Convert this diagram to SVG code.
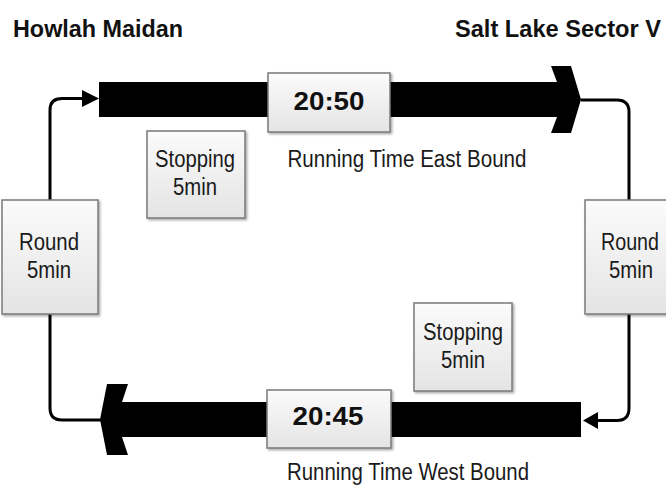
<svg xmlns="http://www.w3.org/2000/svg" width="666" height="486" viewBox="0 0 666 486">
<style>
.box{fill:url(#g);stroke:#7a7a7a;stroke-width:1.5;filter:url(#sh)}
.t{font-family:"Liberation Sans",Arial,sans-serif;font-size:23px;fill:#1a1a1a;text-anchor:middle}
.b{font-family:"Liberation Sans",Arial,sans-serif;font-weight:bold;fill:#111}
.c{fill:none;stroke:#000;stroke-width:3}
.fat{fill:#000}
</style>
<defs>
<linearGradient id="g" x1="0" y1="0" x2="0" y2="1">
<stop offset="0" stop-color="#fbfbfb"/>
<stop offset="1" stop-color="#e4e4e4"/>
</linearGradient>
<filter id="sh" x="-10%" y="-10%" width="130%" height="130%">
<feDropShadow dx="1.5" dy="1.5" stdDeviation="1" flood-color="#000" flood-opacity="0.35"/>
</filter>
</defs>
<text class="b" x="13" y="37" font-size="23" textLength="170" lengthAdjust="spacingAndGlyphs">Howlah Maidan</text>
<text class="b" x="455" y="37" font-size="23" textLength="206" lengthAdjust="spacingAndGlyphs">Salt Lake Sector V</text>
<g id="connectors">
<path class="c" d="M50,200 V110 Q50,98.5 62,98.5 H86"/>
<polygon points="82,90 99,98.5 82,107"/>
<path class="c" d="M581,100 H617 Q629,100 629,112 V200"/>
<path class="c" d="M629,314 V408 Q629,420.5 617,420.5 H594"/>
<polygon points="598,412 583,420.5 598,429"/>
<path class="c" d="M50,314 V408 Q50,420 62,420 H102"/>
</g>
<g id="arrow-east">
<polygon class="fat" points="99,82 557,82 551,66 571,66 581,99.5 571,133 551,133 557,117 99,117"/>
</g>
<g id="arrow-west">
<polygon class="fat" points="581,402 122,402 128,384 107,384 100,419.5 107,455 128,455 122,437 581,437"/>
</g>
<g id="time-east">
<rect class="box" x="268" y="73" width="122" height="59"/>
<text class="b" x="329" y="110" font-size="26" text-anchor="middle" textLength="71" lengthAdjust="spacingAndGlyphs">20:50</text>
</g>
<g id="time-west">
<rect class="box" x="267" y="390" width="124" height="58"/>
<text class="b" x="328" y="425" font-size="26" text-anchor="middle" textLength="71" lengthAdjust="spacingAndGlyphs">20:45</text>
</g>
<g id="stop-east">
<rect class="box" x="147" y="131" width="98" height="87"/>
<text class="t" x="195" y="167" textLength="80" lengthAdjust="spacingAndGlyphs">Stopping</text>
<text class="t" x="195" y="195" textLength="44" lengthAdjust="spacingAndGlyphs">5min</text>
</g>
<g id="stop-west">
<rect class="box" x="414" y="303" width="98" height="88"/>
<text class="t" x="463" y="340" textLength="80" lengthAdjust="spacingAndGlyphs">Stopping</text>
<text class="t" x="463" y="368" textLength="44" lengthAdjust="spacingAndGlyphs">5min</text>
</g>
<g id="round-west">
<rect class="box" x="2" y="200" width="96" height="114"/>
<text class="t" x="49" y="250" textLength="60" lengthAdjust="spacingAndGlyphs">Round</text>
<text class="t" x="49" y="278" textLength="44" lengthAdjust="spacingAndGlyphs">5min</text>
</g>
<g id="round-east">
<rect class="box" x="585" y="200" width="96" height="114"/>
<text class="t" x="630" y="250" textLength="58" lengthAdjust="spacingAndGlyphs">Round</text>
<text class="t" x="631" y="278" textLength="44" lengthAdjust="spacingAndGlyphs">5min</text>
</g>
<text class="t" x="407" y="167" textLength="239" lengthAdjust="spacingAndGlyphs">Running Time East Bound</text>
<text class="t" x="408" y="480" textLength="242" lengthAdjust="spacingAndGlyphs">Running Time West Bound</text>
</svg>
